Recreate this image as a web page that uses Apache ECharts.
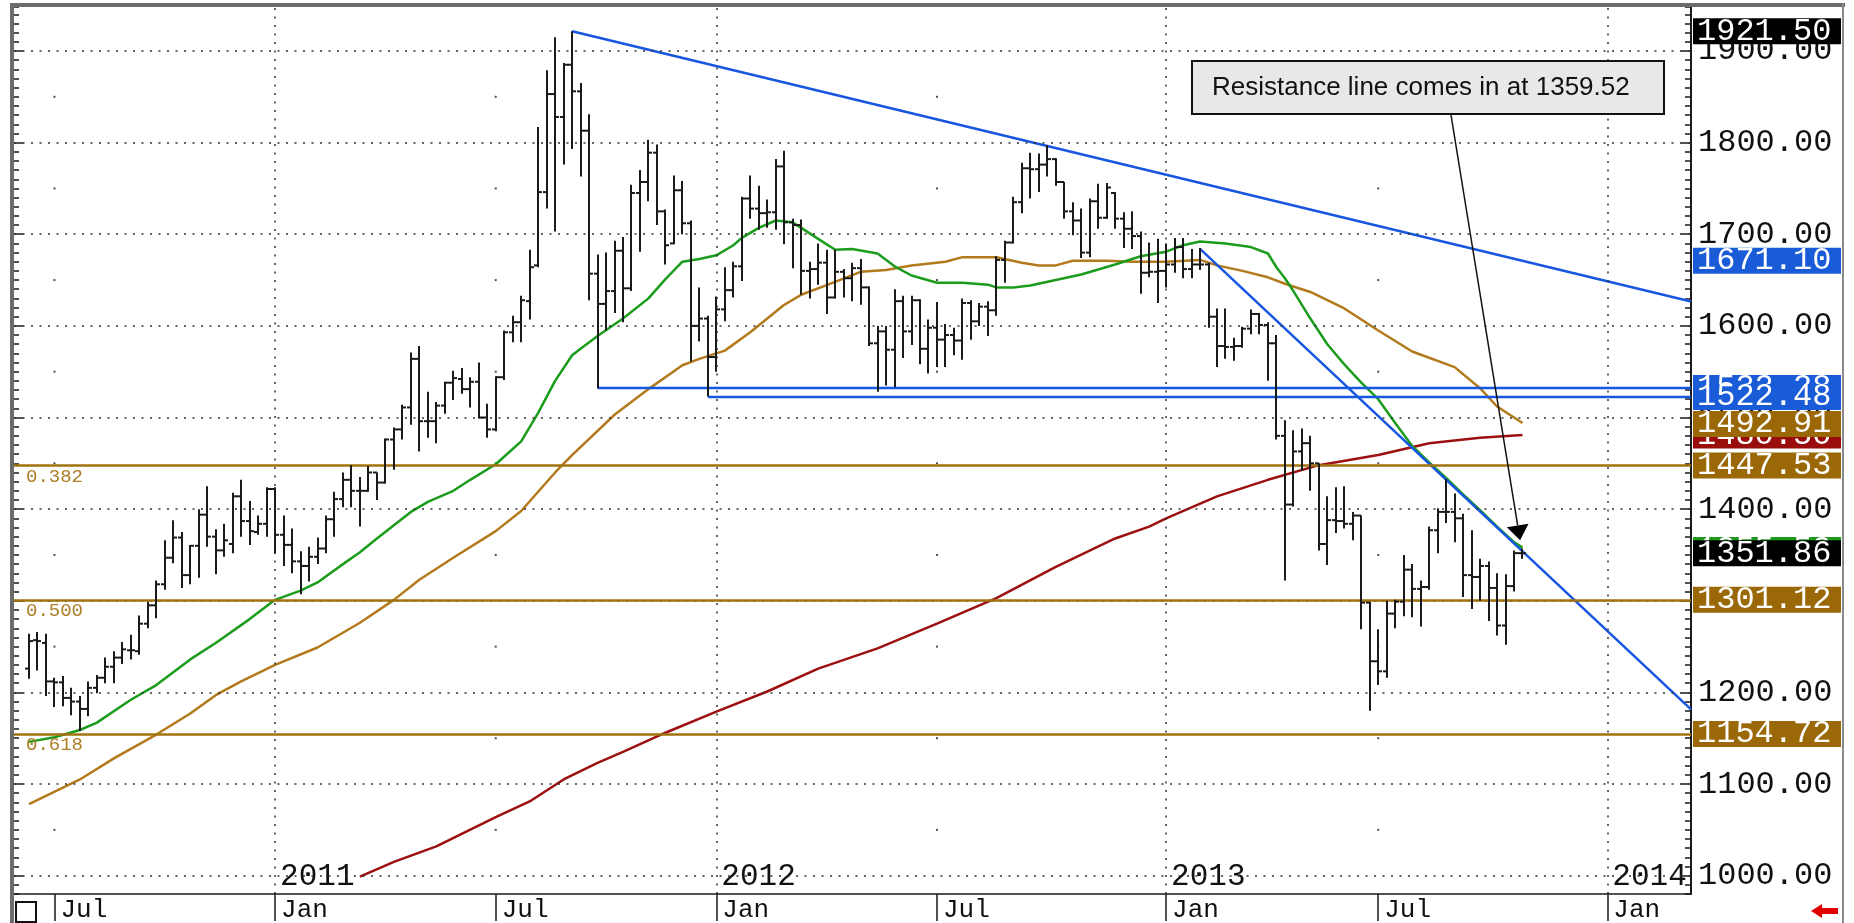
<!DOCTYPE html>
<html>
<head>
<meta charset="utf-8">
<title>Gold weekly bars</title>
<script src="https://cdn.jsdelivr.net/npm/echarts@6/dist/echarts.min.js"></script>
<style>
  html, body { margin: 0; padding: 0; background: #fff; }
  #chart { width: 1854px; height: 923px; }
</style>
</head>
<body>
<div id="chart"></div>
<script>
// weekly bars, bar 1 = week starting 2010-06-14
const DAY = 86400000;
const firstWeek = Date.UTC(2010, 5, 14);
const weekTime = n => firstWeek + (n - 1) * 7 * DAY;
const toTime = s => { const p = s.split('-').map(Number); return Date.UTC(p[0], p[1] - 1, p[2]); };

const opens = [
  1226,1257,1254,1212,1211,1194,1190,1182,1205,1216,
  1228,1238,1246,1245,1275,1295,1318,1347,1369,1328,
  1360,1394,1370,1355,1362,1414,1387,1375,1384,1422,
  1372,1361,1343,1338,1348,1357,1389,1411,1432,1420,
  1420,1440,1429,1476,1487,1511,1564,1496,1496,1513,
  1538,1542,1531,1539,1500,1487,1544,1593,1604,1627,
  1666,1746,1853,1828,1885,1856,1813,1657,1624,1638,
  1682,1641,1745,1757,1789,1725,1690,1748,1712,1600,
  1608,1566,1618,1639,1665,1739,1728,1723,1724,1774,
  1713,1710,1660,1662,1669,1631,1659,1652,1663,1642,
  1581,1594,1574,1627,1594,1628,1575,1598,1585,1590,
  1584,1625,1605,1621,1617,1672,1691,1735,1772,1771,
  1776,1782,1757,1725,1715,1680,1736,1718,1745,1717,
  1706,1698,1658,1659,1660,1667,1686,1662,1667,1667,
  1610,1578,1577,1578,1597,1613,1601,1581,1480,1405,
  1463,1472,1450,1362,1388,1387,1384,1393,1298,1234,
  1223,1286,1299,1334,1313,1315,1377,1397,1397,1390,
  1328,1326,1338,1314,1273,1316,1352
];
const highs = [
  1264,1266,1264,1216,1218,1205,1196,1212,1219,1238,
  1245,1255,1263,1284,1299,1322,1366,1388,1375,1361,
  1400,1425,1378,1384,1418,1432,1409,1393,1424,1424,
  1393,1379,1354,1359,1369,1393,1419,1440,1448,1435,
  1447,1440,1477,1489,1514,1571,1578,1528,1517,1539,
  1551,1554,1544,1560,1515,1545,1595,1611,1633,1683,
  1817,1879,1915,1887,1921.5,1865,1831,1678,1680,1693,
  1697,1754,1770,1803,1798,1727,1764,1758,1715,1642,
  1611,1632,1664,1670,1741,1764,1753,1738,1782,1791,
  1717,1716,1670,1690,1683,1683,1662,1669,1673,1643,
  1600,1600,1640,1633,1633,1629,1607,1626,1602,1598,
  1630,1628,1625,1627,1676,1693,1741,1778,1789,1788,
  1797,1783,1757,1735,1728,1739,1755,1756,1746,1724,
  1725,1703,1691,1695,1690,1696,1696,1684,1685,1669,
  1619,1619,1587,1599,1618,1614,1604,1590,1497,1486,
  1488,1480,1450,1414,1424,1425,1397,1393,1299,1269,
  1300,1301,1350,1340,1322,1381,1401,1433,1417,1395,
  1377,1346,1343,1330,1329,1355,1357
];
const lows = [
  1215,1224,1196,1184,1185,1175,1158,1174,1199,1210,
  1210,1231,1236,1241,1270,1281,1312,1341,1314,1318,
  1325,1359,1329,1348,1352,1370,1361,1372,1370,1352,
  1338,1330,1307,1321,1340,1352,1370,1402,1402,1381,
  1419,1410,1428,1443,1476,1492,1463,1478,1472,1504,
  1519,1526,1511,1499,1478,1485,1541,1582,1582,1607,
  1664,1728,1703,1776,1793,1763,1628,1532,1595,1614,
  1604,1638,1681,1736,1710,1667,1689,1700,1561,1583,
  1523,1550,1605,1631,1649,1717,1705,1707,1705,1689,
  1663,1634,1630,1645,1613,1630,1631,1627,1623,1578,
  1528,1535,1533,1565,1579,1558,1548,1555,1555,1568,
  1563,1585,1600,1589,1611,1647,1690,1723,1739,1746,
  1763,1753,1717,1699,1674,1675,1706,1717,1706,1685,
  1684,1635,1653,1625,1642,1658,1652,1652,1661,1598,
  1555,1564,1562,1576,1591,1591,1540,1476,1322,1403,
  1442,1420,1355,1339,1374,1379,1366,1269,1180,1208,
  1216,1270,1283,1282,1272,1312,1352,1385,1364,1304,
  1291,1300,1278,1262,1252,1310,1346
];
const closes = [
  1256,1256,1212,1211,1194,1190,1182,1205,1216,1228,
  1238,1247,1246,1275,1295,1318,1347,1369,1328,1360,
  1394,1370,1355,1366,1414,1387,1376,1384,1422,1372,
  1361,1343,1338,1348,1357,1389,1411,1432,1420,1420,
  1440,1429,1476,1487,1511,1564,1496,1496,1513,1538,
  1543,1531,1539,1500,1487,1544,1593,1604,1628,1664,
  1746,1853,1828,1885,1856,1813,1657,1624,1638,1682,
  1641,1745,1757,1789,1725,1688,1748,1712,1600,1608,
  1566,1618,1639,1665,1739,1728,1723,1724,1774,1713,
  1710,1660,1662,1669,1631,1659,1652,1663,1642,1581,
  1594,1574,1627,1594,1628,1575,1598,1585,1590,1584,
  1625,1605,1621,1617,1672,1691,1735,1772,1771,1776,
  1782,1757,1725,1715,1680,1736,1718,1751,1717,1706,
  1698,1658,1659,1660,1667,1686,1662,1667,1667,1610,
  1578,1577,1578,1597,1613,1601,1581,1480,1405,1463,
  1472,1450,1362,1388,1387,1384,1393,1298,1234,1223,
  1286,1299,1334,1313,1315,1377,1397,1397,1390,1328,
  1326,1338,1314,1273,1316,1352,1351.86
];

// moving averages: [bar number, value]
const greenMA = [[1,1146],[4,1151],[7,1159],[9,1167],[13,1192],[16,1208],[20,1236],[23,1254],[27,1280],[30,1301],
  [33,1311],[35,1320],[38,1340],[40,1353],[42,1368],[46,1397],[48,1408],[51,1420],[53,1432],[56,1449],
  [59,1474],[61,1505],[63,1540],[65,1568],[66,1575],[68,1589],[71,1608],[74,1630],[76,1651],[78,1670],
  [80,1673],[82,1677],[84,1688],[85,1696],[87,1707],[89,1715],[91,1713],[92,1707],[94,1695],[96,1683],
  [98,1684],[101,1679],[103,1665],[105,1655],[108,1647],[111,1647],[114,1645],[115,1642],[117,1642],[119,1644],
  [122,1650],[125,1656],[129,1667],[132,1676],[135,1681],[137,1688],[139,1692],[142,1690],[145,1686],[147,1679],
  [148,1664],[149,1652],[150,1638],[152,1608],[154,1580],[156,1558],[158,1538],[160,1520],[162,1494],[164,1469],
  [166,1451],[168,1434],[170,1416],[172,1399],[174,1381],[176,1364],[177,1358]];
const brownMA = [[1,1078],[7,1105],[11,1128],[16,1154],[20,1177],[23,1197],[26,1212],[30,1230],[35,1249],[40,1276],
  [44,1301],[47,1323],[51,1347],[56,1376],[59,1398],[63,1440],[65,1459],[70,1503],[74,1531],[78,1557],
  [80,1564],[83,1573],[86,1593],[88,1608],[90,1623],[92,1634],[96,1648],[99,1659],[102,1661],[105,1666],
  [109,1670],[111,1675],[115,1675],[118,1669],[120,1666],[122,1666],[124,1671],[128,1671],[131,1670],[135,1670],
  [139,1672],[141,1666],[144,1660],[147,1653],[149,1646],[152,1637],[156,1619],[160,1595],[164,1572],[169,1555],
  [172,1532],[174,1512],[177,1494]];
const redMA = [[40,999],[44,1015],[49,1032],[56,1064],[60,1081],[64,1105],[68,1123],[71,1135],[76,1156],[82,1179],
  [88,1201],[94,1226],[101,1248],[108,1275],[115,1303],[122,1337],[129,1368],[133,1381],[135,1390],[141,1414],
  [147,1432],[153,1448],[160,1459],[166,1472],[172,1478],[177,1481]];

// trend lines: [date, price]
const resistanceLine = [['2011-09-05', 1921.5], ['2014-03-16', 1626.7]];
const fallingLine = [['2013-02-04', 1684], ['2014-03-16', 1181.5]];
const supportUpper = [['2011-09-26', 1532.28], ['2014-03-16', 1532.28]];
const supportLower = [['2011-12-26', 1522.48], ['2014-03-16', 1522.48]];

const fibLevels = [1447.53, 1301.12, 1154.72];
const fibRatios = ['0.382', '0.500', '0.618'];

const priceTicks = [1000, 1100, 1200, 1300, 1400, 1500, 1600, 1700, 1800, 1900];
const midLevels = [1050, 1150, 1250, 1350, 1450, 1550, 1650, 1750, 1850];
const monthTicks = ['2010-07-05', '2011-01-03', '2011-07-04', '2012-01-02', '2012-07-02', '2013-01-07', '2013-07-01', '2014-01-06'];
const janTicks = ['2011-01-03', '2012-01-02', '2013-01-07', '2014-01-06'];
const julTicks = ['2010-07-05', '2011-07-04', '2012-07-02', '2013-07-01'];

const tagValues = [1921.5, 1671.1, 1532.28, 1522.48, 1480.5, 1492.91, 1447.53, 1355.52, 1351.86, 1301.12, 1154.72];
const tagTexts = ['1921.50', '1671.10', '1532.28', '1522.48', '1480.50', '1492.91', '1447.53', '1355.52', '1351.86', '1301.12', '1154.72'];
const tagColors = ['#000000', '#1a5cd8', '#1a5cd8', '#1a5cd8', '#9a0d0d', '#9a6806', '#9a6806', '#1b9a1b', '#000000', '#9a6806', '#9a6806'];

const blue = '#1656e0', green = '#1c9c1c', brown = '#b27a1c', darkRed = '#9c1010', fibColor = '#a2720e';
const monthNames = ['Jan','Feb','Mar','Apr','May','Jun','Jul','Aug','Sep','Oct','Nov','Dec'];

const bars = opens.map((o, i) => [weekTime(i + 1), o, highs[i], lows[i], closes[i]]);
const maData = arr => arr.map(p => [weekTime(p[0]), p[1]]);
const lineData = arr => arr.map(p => [toTime(p[0]), p[1]]);
const julDots = [];
julTicks.forEach(d => midLevels.forEach(v => julDots.push([toTime(d), v])));

const xMin = Date.UTC(2010, 5, 1, 15);
const xMax = Date.UTC(2014, 2, 16);
const yMin = 980, yMax = 1948;

function renderOHLC(params, api) {
  const t = api.value(0);
  const pO = api.coord([t, api.value(1)]);
  const pH = api.coord([t, api.value(2)]);
  const pL = api.coord([t, api.value(3)]);
  const pC = api.coord([t, api.value(4)]);
  const x = Math.round(pH[0]);
  const st = { stroke: '#1a1a1a', lineWidth: 2 };
  return {
    type: 'group',
    children: [
      { type: 'line', shape: { x1: x, y1: pH[1], x2: x, y2: pL[1] }, style: st },
      { type: 'line', shape: { x1: x - 4, y1: pO[1], x2: x, y2: pO[1] }, style: st },
      { type: 'line', shape: { x1: x, y1: pC[1], x2: x + 4, y2: pC[1] }, style: st }
    ]
  };
}

const chart = echarts.init(document.getElementById('chart'));
const yBase = { type: 'value', min: yMin, max: yMax, splitLine: { show: false } };
const tickStyle = { color: '#1a1a1a', width: 1.5 };

const option = {
  animation: false,
  backgroundColor: '#ffffff',
  grid: { left: 14, right: 163, top: 7, bottom: 27 },
  xAxis: [
    {
      type: 'value', min: xMin, max: xMax,
      splitLine: { show: false },
      axisLine: { show: true, lineStyle: { color: '#1a1a1a', width: 1.5 } },
      axisTick: { show: true, length: 27, customValues: monthTicks.map(toTime), lineStyle: tickStyle },
      axisLabel: {
        customValues: monthTicks.map(toTime),
        formatter: v => monthNames[new Date(v).getUTCMonth()],
        align: 'left', verticalAlign: 'top', margin: 3, padding: [0, 0, 0, 6],
        fontFamily: 'Liberation Mono', fontSize: 26, color: '#111'
      }
    },
    {
      type: 'value', min: xMin, max: xMax, position: 'bottom',
      splitLine: { show: false },
      axisLine: { show: false }, axisTick: { show: false },
      axisLabel: {
        inside: true,
        customValues: janTicks.map(toTime),
        formatter: v => String(new Date(v).getUTCFullYear()),
        align: 'left', verticalAlign: 'bottom', margin: 2, padding: [0, 0, 0, 5],
        fontFamily: 'Liberation Mono', fontSize: 31, color: '#111'
      }
    }
  ],
  yAxis: [
    {
      ...yBase, position: 'right',
      axisLine: { show: true, lineStyle: { color: '#1a1a1a', width: 2 } },
      axisTick: { show: true, inside: true, length: 10, customValues: priceTicks, lineStyle: tickStyle },
      axisLabel: {
        customValues: priceTicks, formatter: v => v.toFixed(2),
        margin: 7, fontFamily: 'Liberation Mono', fontSize: 32, color: '#111'
      }
    },
    {
      ...yBase, position: 'right', interval: 10,
      axisLine: { show: false },
      axisTick: { show: true, inside: true, length: 6, lineStyle: tickStyle },
      axisLabel: { show: false }
    },
    {
      ...yBase, position: 'left', interval: 10,
      axisLine: { show: false },
      axisTick: { show: true, inside: true, length: 5, lineStyle: tickStyle },
      axisLabel: { show: false }
    },
    {
      ...yBase, position: 'left',
      axisLine: { show: false },
      axisTick: { show: true, inside: true, length: 9, customValues: priceTicks, lineStyle: tickStyle },
      axisLabel: { show: false }
    }
  ],
  series: [
    {
      name: 'grid', type: 'scatter', data: julDots, symbol: 'rect', symbolSize: 2,
      itemStyle: { color: '#222' }, silent: true, z: 1,
      markLine: {
        silent: true, symbol: ['none', 'none'], label: { show: false },
        lineStyle: { color: '#333', type: [2, 6.5], width: 1.5 },
        data: priceTicks.map(v => ({ yAxis: v })).concat(janTicks.map(d => ({ xAxis: toTime(d) })))
      }
    },
    {
      name: 'fib', type: 'line', data: [], z: 2,
      markLine: {
        silent: true, symbol: ['none', 'none'],
        lineStyle: { color: fibColor, width: 2.5, type: 'solid' },
        label: {
          show: true, position: 'insideStartBottom', distance: 2, padding: [0, 0, 0, 10],
          color: '#ac7e26', fontFamily: 'Liberation Mono', fontSize: 19
        },
        data: fibLevels.map((v, i) => ({ yAxis: v, label: { formatter: fibRatios[i] } }))
      }
    },
    { name: 'ma red', type: 'line', data: maData(redMA), showSymbol: false, z: 3, lineStyle: { color: darkRed, width: 2.5 } },
    { name: 'ma brown', type: 'line', data: maData(brownMA), showSymbol: false, z: 3, lineStyle: { color: brown, width: 2.5 } },
    { name: 'ma green', type: 'line', data: maData(greenMA), showSymbol: false, z: 3, lineStyle: { color: green, width: 2.5 } },
    { name: 'resistance', type: 'line', data: lineData(resistanceLine), showSymbol: false, z: 4, lineStyle: { color: blue, width: 2.5 } },
    { name: 'falling', type: 'line', data: lineData(fallingLine), showSymbol: false, z: 4, lineStyle: { color: blue, width: 2.5 } },
    { name: 'support 1', type: 'line', data: lineData(supportUpper), showSymbol: false, z: 4, lineStyle: { color: blue, width: 2.5 } },
    { name: 'support 2', type: 'line', data: lineData(supportLower), showSymbol: false, z: 4, lineStyle: { color: blue, width: 2.5 } },
    {
      name: 'price', type: 'custom', data: bars, renderItem: renderOHLC, z: 5,
      encode: { x: 0, y: [1, 2, 3, 4] }
    },
    {
      name: 'tags', type: 'line', data: [], z: 10,
      markLine: {
        silent: true, symbol: ['none', 'none'],
        lineStyle: { color: 'rgba(0,0,0,0)', width: 0 },
        label: {
          show: true, position: 'end', distance: 2,
          color: '#ffffff', fontFamily: 'Liberation Mono', fontSize: 32, lineHeight: 26,
          padding: [0, 5, 0, 4], width: 139
        },
        data: tagValues.map((v, i) => ({
          yAxis: v,
          label: { formatter: tagTexts[i], backgroundColor: tagColors[i] }
        }))
      }
    }
  ]
};
chart.setOption(option);

// annotation box + arrow pointing at the falling resistance line
const tip = chart.convertToPixel({ xAxisIndex: 0, yAxisIndex: 0 }, [toTime('2013-10-26'), 1366]);
const start = [1451, 115];
const dx = tip[0] - start[0], dy = tip[1] - start[1];
const len = Math.sqrt(dx * dx + dy * dy);
const ux = dx / len, uy = dy / len;
const bx = tip[0] - ux * 15, by = tip[1] - uy * 15;
const hw = 11;

chart.setOption({
  graphic: [
    { type: 'rect', shape: { x: 10, y: 3, width: 1835, height: 4 }, style: { fill: '#6b6b6b' }, z: 100 },
    { type: 'rect', shape: { x: 10, y: 3, width: 4, height: 920 }, style: { fill: '#6b6b6b' }, z: 100 },
    { type: 'rect', shape: { x: 1842, y: 3, width: 2, height: 920 }, style: { fill: '#8a8a8a' }, z: 100 },
    { type: 'rect', shape: { x: 16, y: 902, width: 20, height: 20 }, style: { fill: '#fff', stroke: '#111', lineWidth: 2 }, z: 100 },
    { type: 'polygon', shape: { points: [[1811, 911], [1822, 904], [1822, 908], [1838, 908], [1838, 914], [1822, 914], [1822, 918]] }, style: { fill: '#e00000' }, z: 100 },
    { type: 'rect', shape: { x: 1192, y: 61, width: 472, height: 53 }, style: { fill: '#e8e8e8', stroke: '#111', lineWidth: 2 }, z: 100 },
    { type: 'text', x: 1212, y: 88, style: { text: 'Resistance line comes in at 1359.52', fontFamily: 'Liberation Sans', fontSize: 26, fill: '#111', verticalAlign: 'middle' }, z: 101 },
    { type: 'line', shape: { x1: start[0], y1: start[1], x2: bx, y2: by }, style: { stroke: '#111', lineWidth: 1.5 }, z: 100 },
    { type: 'polygon', shape: { points: [[tip[0], tip[1]], [bx + uy * hw, by - ux * hw], [bx - uy * hw, by + ux * hw]] }, style: { fill: '#000' }, z: 100 }
  ]
});
</script>
</body>
</html>
